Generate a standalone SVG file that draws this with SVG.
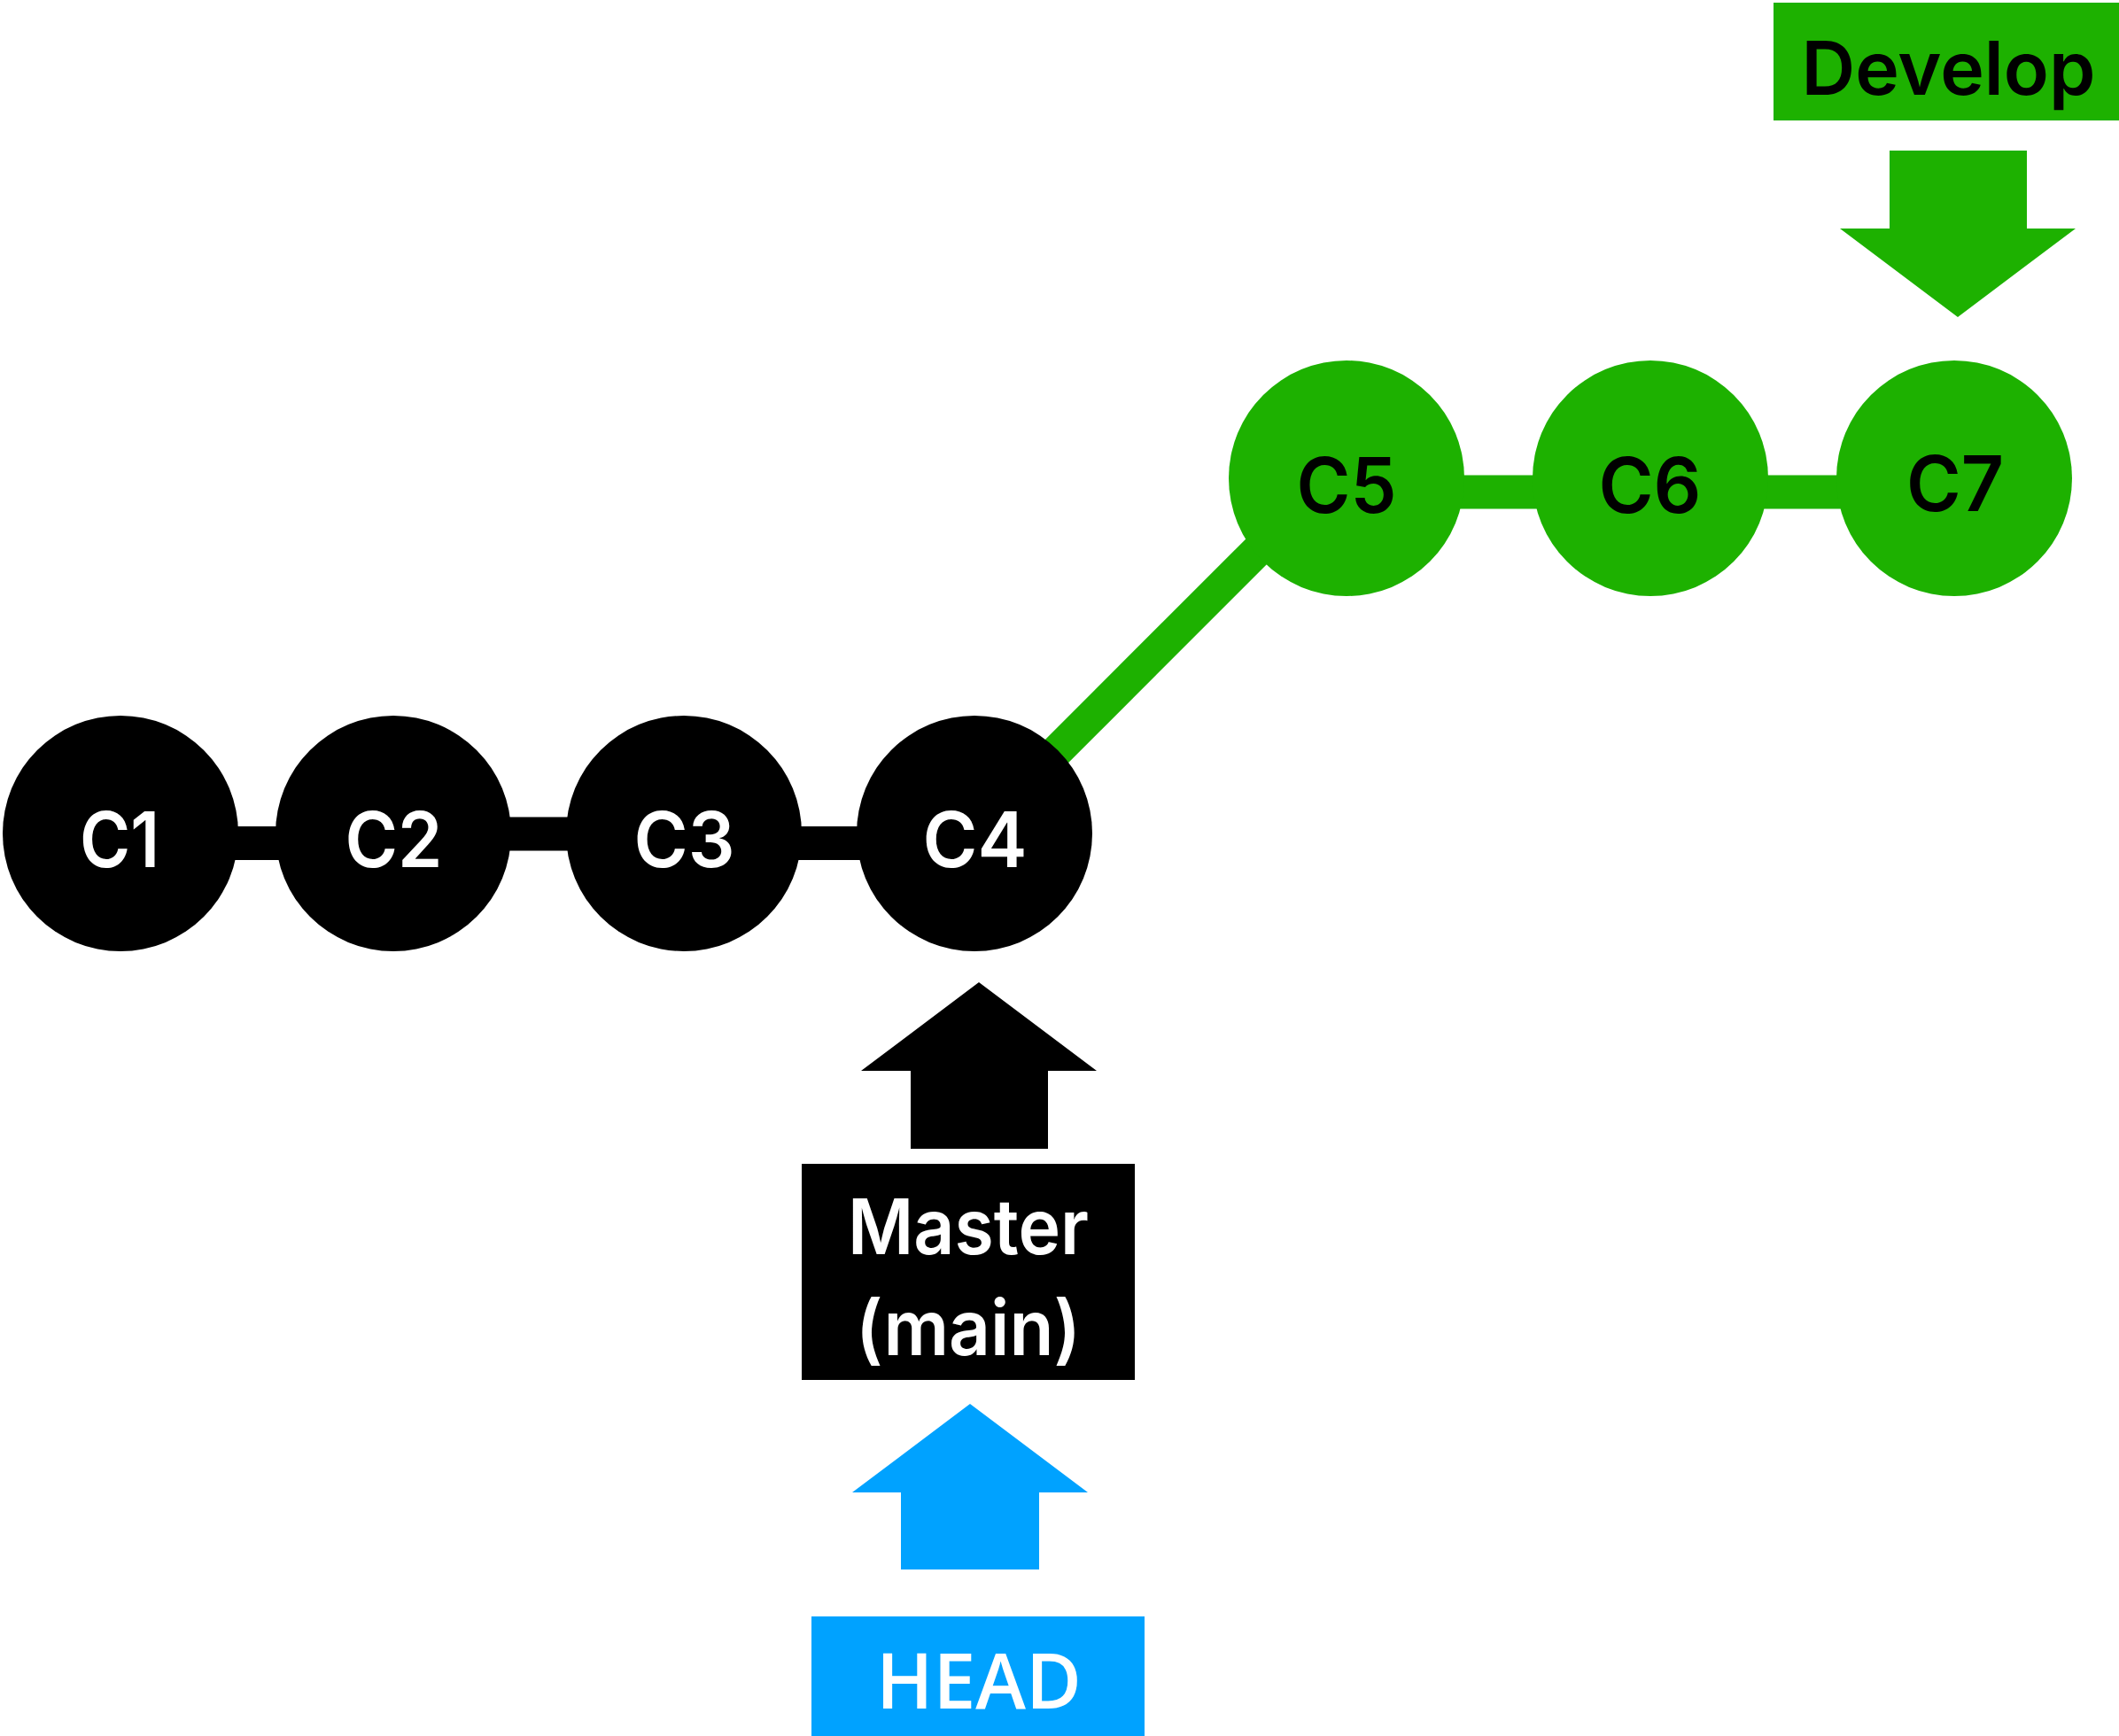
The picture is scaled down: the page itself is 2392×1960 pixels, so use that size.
<svg xmlns="http://www.w3.org/2000/svg" width="2392" height="1960" viewBox="0 0 2392 1960">
  <style>
    .blk { fill: #000000; }
    .grn { fill: #1DB100; }
    .blu { fill: #00A2FF; }
    .lbl { font-family: Inter, "Liberation Sans", sans-serif; font-weight: 600; font-size: 86px; text-anchor: middle; }
    .wt { fill: #FFFFFF; }
    .bt { fill: #000000; }
  </style>
  <rect x="0" y="0" width="2392" height="1960" fill="#FFFFFF"/>
  <g id="connectors">
    <rect class="blk" x="136" y="933" width="308" height="38"/>
    <rect class="blk" x="444" y="922.5" width="328" height="38"/>
    <rect class="blk" x="772" y="933" width="328" height="38"/>
    <line x1="1100" y1="941" x2="1505" y2="536" stroke="#1DB100" stroke-width="37"/>
    <rect class="grn" x="1520" y="536.5" width="343" height="38"/>
    <rect class="grn" x="1863" y="536.5" width="343" height="38"/>
    <polygon id="develop-arrow" class="grn" points="2133,170 2288,170 2288,258 2343,258 2210,358 2077,258 2133,258"/>
    <polygon id="master-arrow" class="blk" points="1105,1109 1238,1209 1183,1209 1183,1297 1028,1297 1028,1209 972,1209"/>
    <polygon id="head-arrow" class="blu" points="1095,1585 1228,1685 1173,1685 1173,1772 1017,1772 1017,1685 962,1685"/>
  </g>
  <g id="C1"><circle class="blk" cx="136" cy="941" r="133"/><text class="lbl wt" x="135" y="979" textLength="90" lengthAdjust="spacingAndGlyphs">C1</text></g>
  <g id="C2"><circle class="blk" cx="444" cy="941" r="133"/><text class="lbl wt" x="444.5" y="979" textLength="110" lengthAdjust="spacingAndGlyphs">C2</text></g>
  <g id="C3"><circle class="blk" cx="772" cy="941" r="133"/><text class="lbl wt" x="772.5" y="979" textLength="114" lengthAdjust="spacingAndGlyphs">C3</text></g>
  <g id="C4"><circle class="blk" cx="1100" cy="941" r="133"/><text class="lbl wt" x="1100.5" y="979" textLength="118" lengthAdjust="spacingAndGlyphs">C4</text></g>
  <g id="C5"><circle class="grn" cx="1520" cy="540" r="133"/><text class="lbl bt" x="1520" y="579" textLength="113" lengthAdjust="spacingAndGlyphs">C5</text></g>
  <g id="C6"><circle class="grn" cx="1863" cy="540" r="133"/><text class="lbl bt" x="1862.5" y="579" textLength="116" lengthAdjust="spacingAndGlyphs">C6</text></g>
  <g id="C7"><circle class="grn" cx="2206" cy="540" r="133"/><text class="lbl bt" x="2207" y="577" textLength="110" lengthAdjust="spacingAndGlyphs">C7</text></g>
  <g id="develop">
    <rect class="grn" x="2002" y="3" width="390" height="133"/>
    <text class="lbl bt" x="2199.5" y="107" style="font-size:84px" textLength="332" lengthAdjust="spacingAndGlyphs">Develop</text>
  </g>
  <g id="master">
    <rect class="blk" x="905" y="1314" width="376" height="244"/>
    <text class="lbl wt" x="1093" y="1416" style="font-size:86px" textLength="272" lengthAdjust="spacingAndGlyphs">Master</text>
    <text class="lbl wt" x="1093" y="1530" style="font-size:86px" textLength="254" lengthAdjust="spacingAndGlyphs">(main)</text>
  </g>
  <g id="head">
    <rect class="blu" x="916" y="1825" width="376" height="135"/>
    <text class="wt" x="1105" y="1929" style="font-family:'Open Sans','Liberation Sans',sans-serif;font-weight:600;font-size:87px;text-anchor:middle" textLength="232" lengthAdjust="spacingAndGlyphs">HEAD</text>
  </g>
</svg>
